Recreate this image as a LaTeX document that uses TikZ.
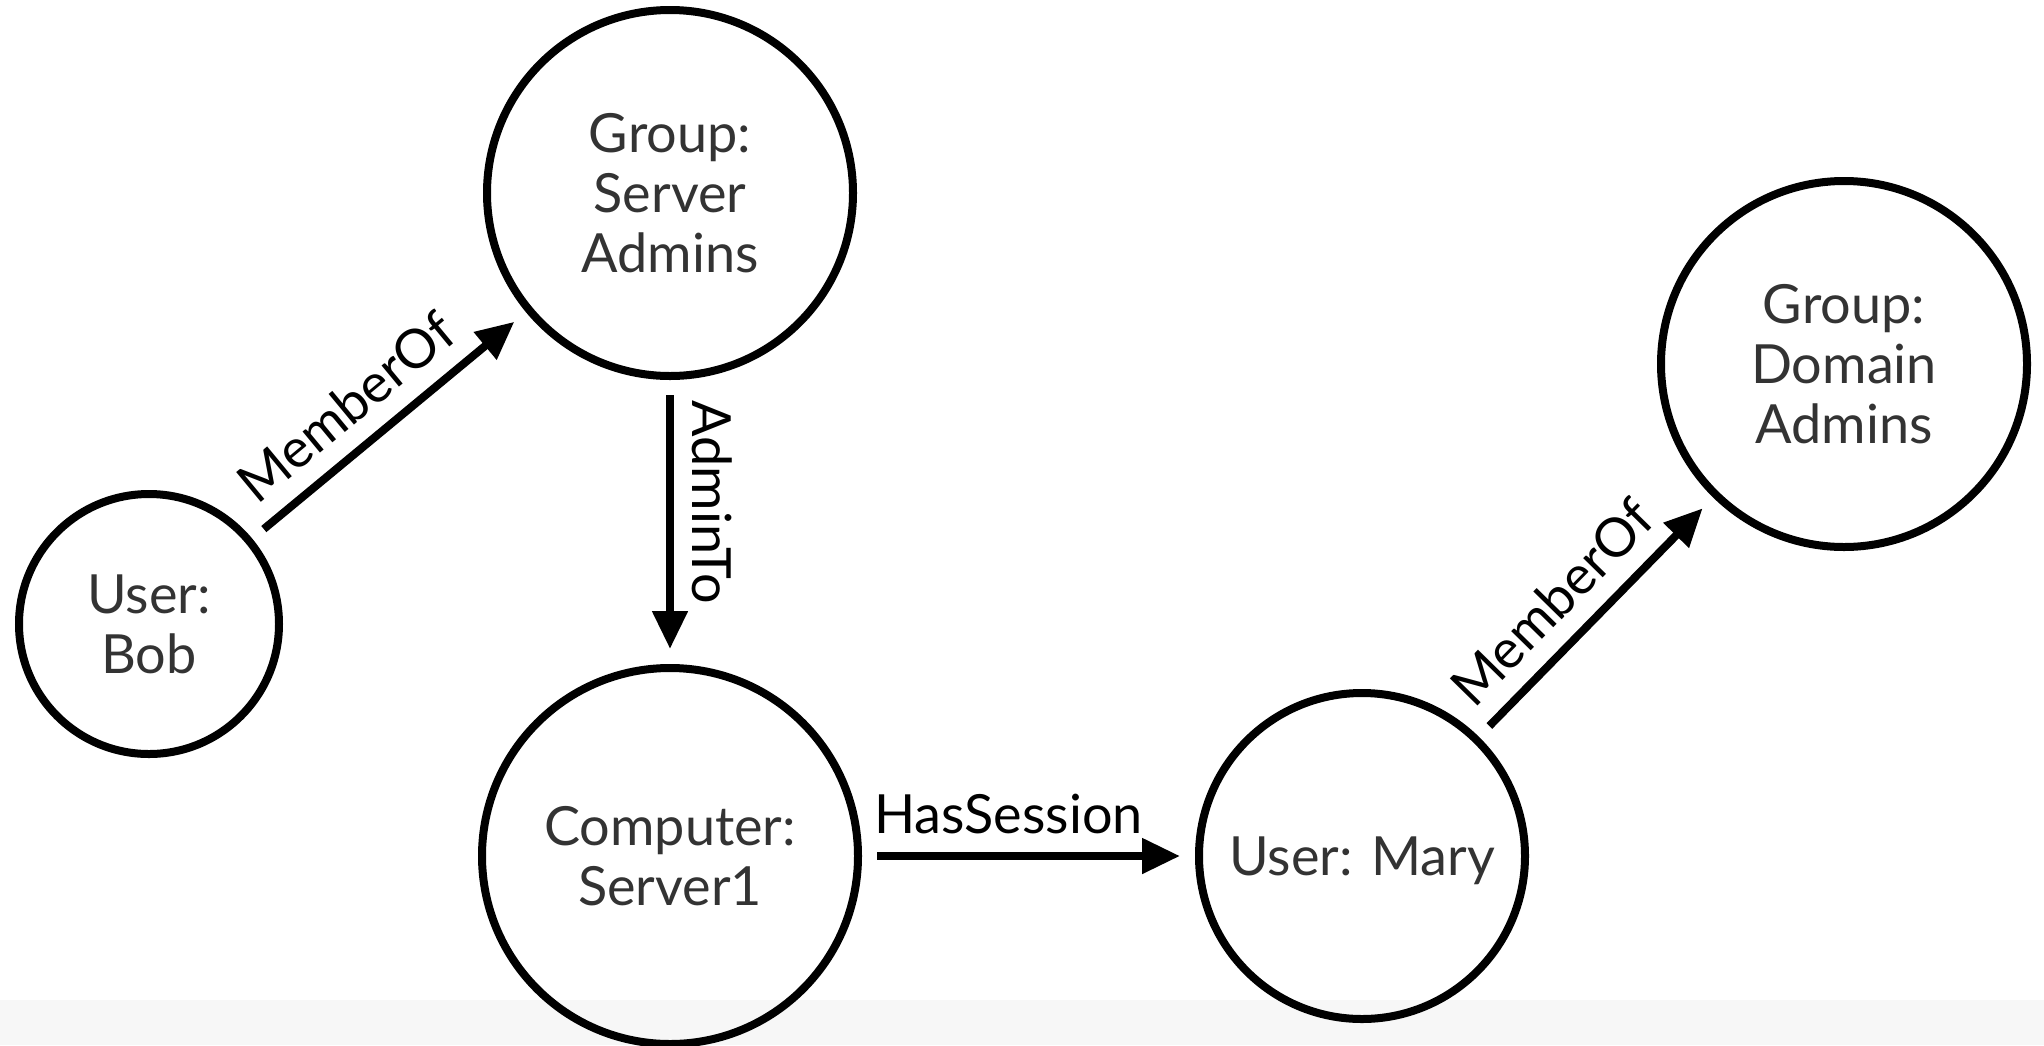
\documentclass[tikz,border=0pt]{standalone}
\usepackage{fontspec}
\setmainfont{Lato}
\usetikzlibrary{arrows.meta}
\definecolor{nodetext}{HTML}{333333}
\definecolor{band}{HTML}{F7F7F7}
\begin{document}
\begin{tikzpicture}[x=1pt,y=-1pt,
  ent/.style={circle, draw, line width=8pt, text=nodetext, align=center,
    font=\fontsize{54}{60}\selectfont, inner sep=0pt, text depth=0pt},
  rel/.style={line width=8pt, -{Triangle[length=38pt,width=34pt]},
    shorten <=15pt, shorten >=15pt},
  lbl/.style={font=\fontsize{54}{60}\selectfont, text=black,
    inner xsep=0pt, inner ysep=18pt, anchor=south}]
\fill[white] (0,0) rectangle (2044,1045);
\fill[band] (0,1000) rectangle (2044,1045);
\useasboundingbox (0,0) rectangle (2044,1045);
\node[ent, minimum size=260pt] (bob) at (149,624) {User:\\Bob};
\node[ent, minimum size=366pt] (server) at (670,193) {Group:\\Server\\Admins};
\node[ent, minimum size=376pt] (comp) at (670,856) {Computer:\\Server1};
\node[ent, minimum size=326pt] (mary) at (1362,856) {User: Mary};
\node[ent, minimum size=366pt] (dom) at (1844,364) {Group:\\Domain\\Admins};
\draw[rel] (bob) -- node[lbl, sloped, pos=0.44] {MemberOf} (server);
\draw[rel] (server) -- node[lbl, rotate=-90, pos=0.43] {AdminTo} (comp);
\draw[rel] (comp) -- node[lbl, pos=0.44] {HasSession} (mary);
\draw[rel] (mary) -- node[lbl, sloped, pos=0.44] {MemberOf} (dom);
\end{tikzpicture}
\end{document}
